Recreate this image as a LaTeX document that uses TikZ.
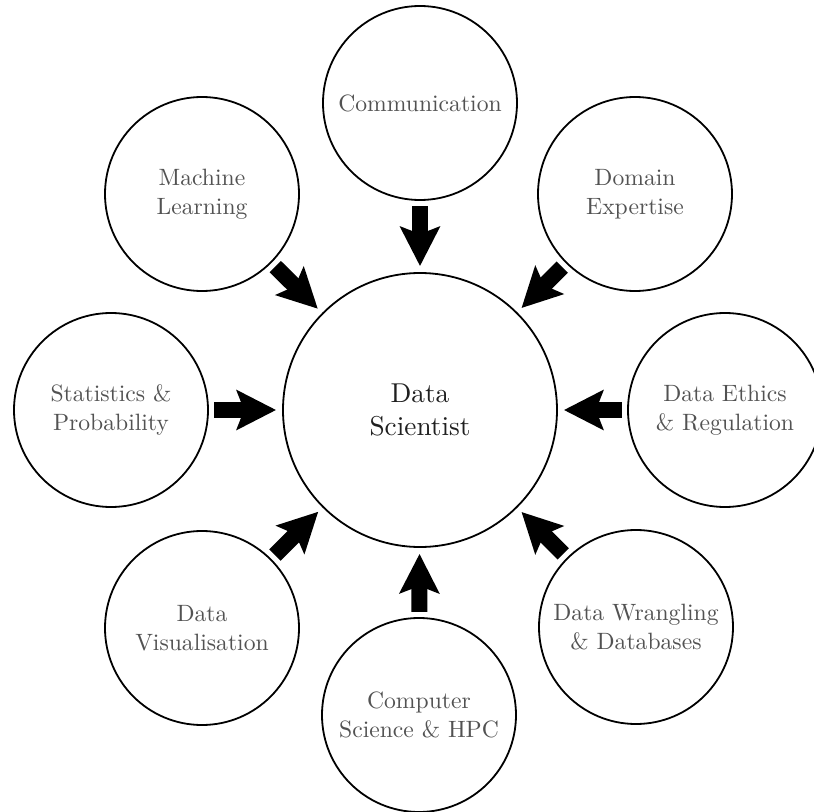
\documentclass[tikz,border=0pt]{standalone}
\usepackage{fontspec}
\setmainfont{lmroman10-regular.otf}
\usetikzlibrary{arrows.meta}

\begin{document}
\begin{tikzpicture}[x=0.25mm,y=-0.25mm,
  skill/.style={circle, draw=black, line width=0.45mm, minimum size=194*0.25mm,
    inner sep=0pt, align=center, text=black!68,
    font=\fontsize{16.8}{20.6}\selectfont},
  hub/.style={circle, draw=black, line width=0.45mm, minimum size=274*0.25mm,
    inner sep=0pt, align=center, text=black!88,
    font=\fontsize{19.4}{23.5}\selectfont},
  feed/.style={line width=4mm,
    -{Stealth[length=9.8mm, width=9.8mm, inset=1.8mm]},
    shorten <=1.3mm, shorten >=1.5mm}]

  % page frame
  \useasboundingbox (0,0) rectangle (814,812);

  % central role
  \node[hub] (ds) at (420,410) {Data\\Scientist};

  % surrounding skills
  \node[skill] (comm) at (420,103) {Communication};
  \node[skill] (ml)   at (202,194) {Machine\\Learning};
  \node[skill] (dom)  at (635,194) {Domain\\Expertise};
  \node[skill] (stat) at (111,410) {Statistics \&\\Probability};
  \node[skill] (eth)  at (725,410) {Data Ethics\\\& Regulation};
  \node[skill] (vis)  at (202,628) {Data\\Visualisation};
  \node[skill] (wra)  at (636,627) {Data Wrangling\\\& Databases};
  \node[skill] (cs)   at (419,715) {Computer\\Science \& HPC};

  % every skill feeds the central role
  \foreach \s in {comm,ml,dom,stat,eth,vis,wra,cs}
    \draw[feed] (\s) -- (ds);
\end{tikzpicture}
\end{document}
